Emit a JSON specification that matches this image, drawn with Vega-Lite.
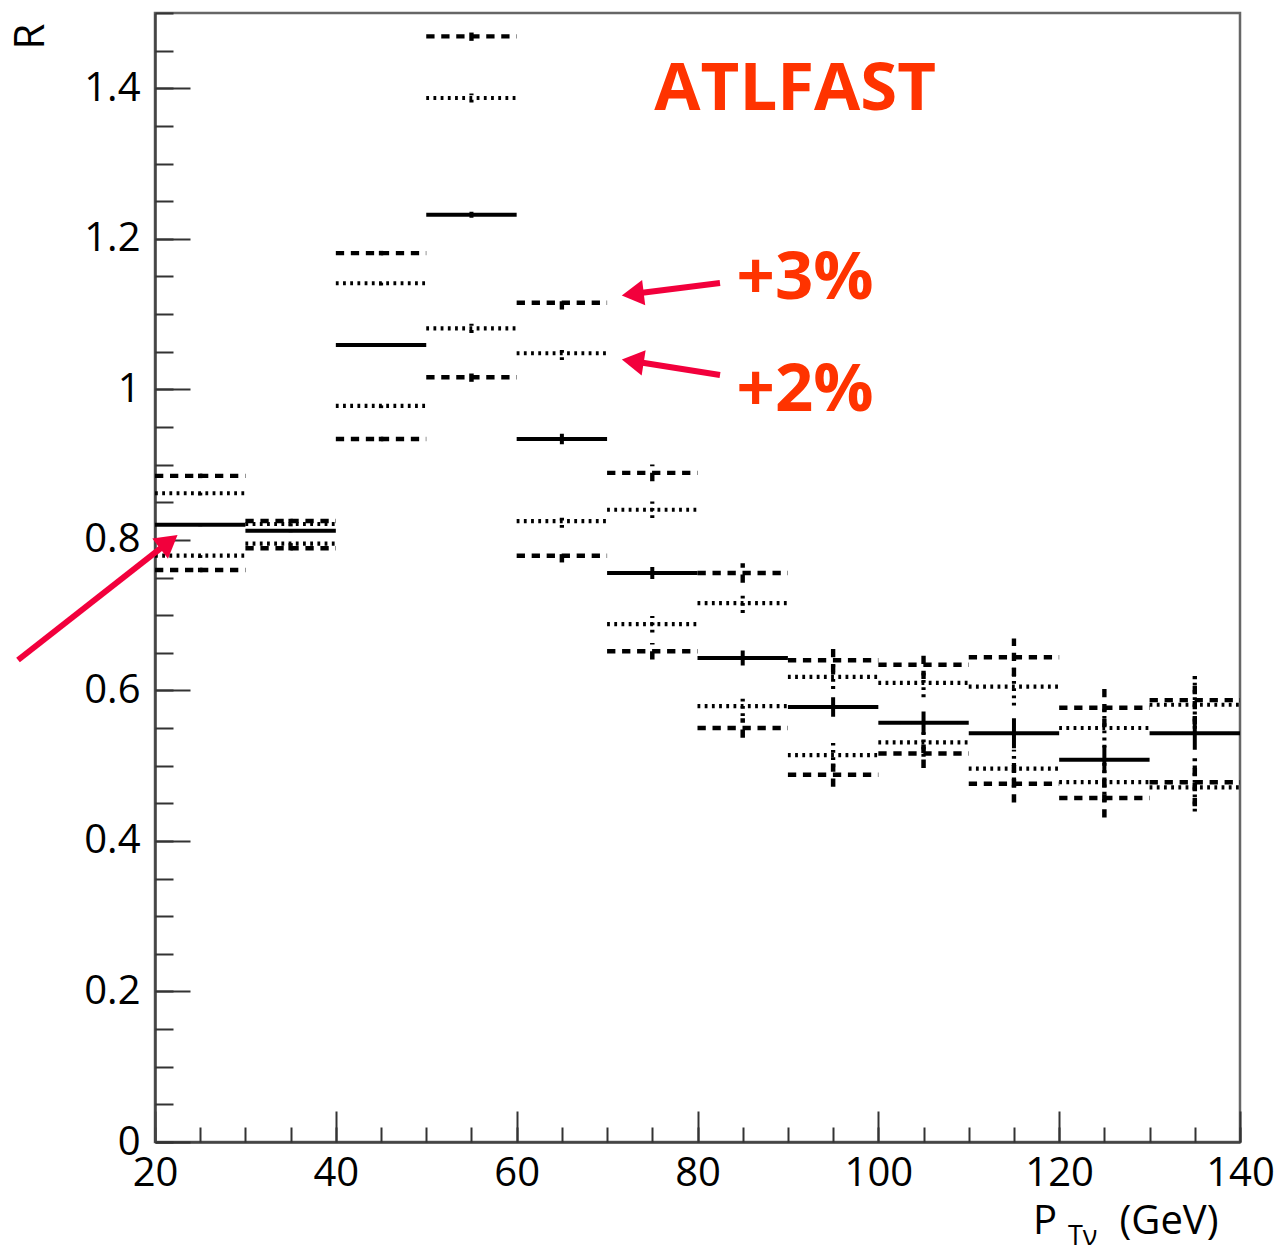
{
  "$schema": "https://vega.github.io/schema/vega-lite/v6.json",
  "width": 1085,
  "height": 1129,
  "autosize": {"type": "none"},
  "padding": {"left": 155, "top": 13, "right": 38, "bottom": 111},
  "background": "white",
  "config": {
    "view": {"stroke": "#666666", "strokeWidth": 2.5},
    "font": "Open Sans"
  },
  "datasets": {
    "bins": [
      {"x0": 20, "x1": 30, "xc": 25, "series": "+2%", "R": 0.862, "lo": 0.859, "hi": 0.865},
      {"x0": 20, "x1": 30, "xc": 25, "series": "-2%", "R": 0.779, "lo": 0.776, "hi": 0.782},
      {"x0": 20, "x1": 30, "xc": 25, "series": "+3%", "R": 0.885, "lo": 0.882, "hi": 0.888},
      {"x0": 20, "x1": 30, "xc": 25, "series": "-3%", "R": 0.760, "lo": 0.757, "hi": 0.763},
      {"x0": 20, "x1": 30, "xc": 25, "series": "nominal", "R": 0.820, "lo": 0.818, "hi": 0.822},
      {"x0": 30, "x1": 40, "xc": 35, "series": "+2%", "R": 0.821, "lo": 0.818, "hi": 0.824},
      {"x0": 30, "x1": 40, "xc": 35, "series": "-2%", "R": 0.795, "lo": 0.792, "hi": 0.798},
      {"x0": 30, "x1": 40, "xc": 35, "series": "+3%", "R": 0.825, "lo": 0.822, "hi": 0.828},
      {"x0": 30, "x1": 40, "xc": 35, "series": "-3%", "R": 0.789, "lo": 0.786, "hi": 0.792},
      {"x0": 30, "x1": 40, "xc": 35, "series": "nominal", "R": 0.812, "lo": 0.810, "hi": 0.814},
      {"x0": 40, "x1": 50, "xc": 45, "series": "+2%", "R": 1.141, "lo": 1.138, "hi": 1.144},
      {"x0": 40, "x1": 50, "xc": 45, "series": "-2%", "R": 0.978, "lo": 0.975, "hi": 0.981},
      {"x0": 40, "x1": 50, "xc": 45, "series": "+3%", "R": 1.181, "lo": 1.178, "hi": 1.184},
      {"x0": 40, "x1": 50, "xc": 45, "series": "-3%", "R": 0.934, "lo": 0.931, "hi": 0.937},
      {"x0": 40, "x1": 50, "xc": 45, "series": "nominal", "R": 1.059, "lo": 1.057, "hi": 1.061},
      {"x0": 50, "x1": 60, "xc": 55, "series": "+2%", "R": 1.387, "lo": 1.381, "hi": 1.393},
      {"x0": 50, "x1": 60, "xc": 55, "series": "-2%", "R": 1.081, "lo": 1.075, "hi": 1.087},
      {"x0": 50, "x1": 60, "xc": 55, "series": "+3%", "R": 1.469, "lo": 1.463, "hi": 1.475},
      {"x0": 50, "x1": 60, "xc": 55, "series": "-3%", "R": 1.016, "lo": 1.010, "hi": 1.022},
      {"x0": 50, "x1": 60, "xc": 55, "series": "nominal", "R": 1.232, "lo": 1.228, "hi": 1.236},
      {"x0": 60, "x1": 70, "xc": 65, "series": "+2%", "R": 1.048, "lo": 1.039, "hi": 1.057},
      {"x0": 60, "x1": 70, "xc": 65, "series": "-2%", "R": 0.825, "lo": 0.816, "hi": 0.834},
      {"x0": 60, "x1": 70, "xc": 65, "series": "+3%", "R": 1.115, "lo": 1.106, "hi": 1.124},
      {"x0": 60, "x1": 70, "xc": 65, "series": "-3%", "R": 0.779, "lo": 0.770, "hi": 0.788},
      {"x0": 60, "x1": 70, "xc": 65, "series": "nominal", "R": 0.934, "lo": 0.927, "hi": 0.941},
      {"x0": 70, "x1": 80, "xc": 75, "series": "+2%", "R": 0.840, "lo": 0.829, "hi": 0.851},
      {"x0": 70, "x1": 80, "xc": 75, "series": "-2%", "R": 0.688, "lo": 0.677, "hi": 0.699},
      {"x0": 70, "x1": 80, "xc": 75, "series": "+3%", "R": 0.889, "lo": 0.878, "hi": 0.900},
      {"x0": 70, "x1": 80, "xc": 75, "series": "-3%", "R": 0.652, "lo": 0.641, "hi": 0.663},
      {"x0": 70, "x1": 80, "xc": 75, "series": "nominal", "R": 0.756, "lo": 0.748, "hi": 0.764},
      {"x0": 80, "x1": 90, "xc": 85, "series": "+2%", "R": 0.716, "lo": 0.703, "hi": 0.729},
      {"x0": 80, "x1": 90, "xc": 85, "series": "-2%", "R": 0.579, "lo": 0.566, "hi": 0.592},
      {"x0": 80, "x1": 90, "xc": 85, "series": "+3%", "R": 0.756, "lo": 0.743, "hi": 0.769},
      {"x0": 80, "x1": 90, "xc": 85, "series": "-3%", "R": 0.550, "lo": 0.537, "hi": 0.563},
      {"x0": 80, "x1": 90, "xc": 85, "series": "nominal", "R": 0.643, "lo": 0.633, "hi": 0.653},
      {"x0": 90, "x1": 100, "xc": 95, "series": "+2%", "R": 0.618, "lo": 0.602, "hi": 0.634},
      {"x0": 90, "x1": 100, "xc": 95, "series": "-2%", "R": 0.514, "lo": 0.498, "hi": 0.530},
      {"x0": 90, "x1": 100, "xc": 95, "series": "+3%", "R": 0.640, "lo": 0.624, "hi": 0.656},
      {"x0": 90, "x1": 100, "xc": 95, "series": "-3%", "R": 0.488, "lo": 0.472, "hi": 0.504},
      {"x0": 90, "x1": 100, "xc": 95, "series": "nominal", "R": 0.578, "lo": 0.565, "hi": 0.591},
      {"x0": 100, "x1": 110, "xc": 105, "series": "+2%", "R": 0.610, "lo": 0.591, "hi": 0.629},
      {"x0": 100, "x1": 110, "xc": 105, "series": "-2%", "R": 0.531, "lo": 0.512, "hi": 0.550},
      {"x0": 100, "x1": 110, "xc": 105, "series": "+3%", "R": 0.634, "lo": 0.615, "hi": 0.653},
      {"x0": 100, "x1": 110, "xc": 105, "series": "-3%", "R": 0.516, "lo": 0.497, "hi": 0.535},
      {"x0": 100, "x1": 110, "xc": 105, "series": "nominal", "R": 0.557, "lo": 0.542, "hi": 0.572},
      {"x0": 110, "x1": 120, "xc": 115, "series": "+2%", "R": 0.605, "lo": 0.580, "hi": 0.630},
      {"x0": 110, "x1": 120, "xc": 115, "series": "-2%", "R": 0.496, "lo": 0.471, "hi": 0.521},
      {"x0": 110, "x1": 120, "xc": 115, "series": "+3%", "R": 0.644, "lo": 0.619, "hi": 0.669},
      {"x0": 110, "x1": 120, "xc": 115, "series": "-3%", "R": 0.476, "lo": 0.451, "hi": 0.501},
      {"x0": 110, "x1": 120, "xc": 115, "series": "nominal", "R": 0.543, "lo": 0.523, "hi": 0.563},
      {"x0": 120, "x1": 130, "xc": 125, "series": "+2%", "R": 0.550, "lo": 0.524, "hi": 0.576},
      {"x0": 120, "x1": 130, "xc": 125, "series": "-2%", "R": 0.478, "lo": 0.452, "hi": 0.504},
      {"x0": 120, "x1": 130, "xc": 125, "series": "+3%", "R": 0.577, "lo": 0.551, "hi": 0.603},
      {"x0": 120, "x1": 130, "xc": 125, "series": "-3%", "R": 0.457, "lo": 0.431, "hi": 0.483},
      {"x0": 120, "x1": 130, "xc": 125, "series": "nominal", "R": 0.508, "lo": 0.490, "hi": 0.526},
      {"x0": 130, "x1": 140, "xc": 135, "series": "+2%", "R": 0.581, "lo": 0.549, "hi": 0.613},
      {"x0": 130, "x1": 140, "xc": 135, "series": "-2%", "R": 0.471, "lo": 0.439, "hi": 0.503},
      {"x0": 130, "x1": 140, "xc": 135, "series": "+3%", "R": 0.587, "lo": 0.555, "hi": 0.619},
      {"x0": 130, "x1": 140, "xc": 135, "series": "-3%", "R": 0.478, "lo": 0.446, "hi": 0.510},
      {"x0": 130, "x1": 140, "xc": 135, "series": "nominal", "R": 0.543, "lo": 0.521, "hi": 0.565}
    ],
    "notes": [
      {"label": "ATLFAST", "x": 90.8, "y": 1.398},
      {"label": "+3%", "x": 91.9, "y": 1.146},
      {"label": "+2%", "x": 91.9, "y": 0.998}
    ],
    "subscript": [
      {"label": "Tν", "x": 122.6, "y": -0.1375}
    ],
    "arrows": [
      {"x": 82.49, "y": 1.1413, "xe": 73.24, "ye": 1.1272, "dir": 263},
      {"x": 82.49, "y": 1.0190, "xe": 73.24, "ye": 1.0366, "dir": 279},
      {"x": 4.85, "y": 0.6404, "xe": 21.21, "ye": 0.7944, "dir": 52}
    ]
  },
  "layer": [
    {
      "data": {"name": "bins"},
      "mark": {"type": "rule", "strokeCap": "butt", "color": "black"},
      "encoding": {
        "x": {
          "field": "x0", "type": "quantitative",
          "scale": {"domain": [20, 140], "nice": false, "zero": false},
          "axis": {
            "orient": "bottom",
            "values": [20, 40, 60, 80, 100, 120, 140],
            "tickSize": -31, "tickColor": "#333333", "tickWidth": 2,
            "labelPadding": 42, "labelFontSize": 40, "labelFont": "Open Sans",
            "labelColor": "black", "labelFlush": false, "labelOverlap": false,
            "domainColor": "#444444", "domainWidth": 2.5, "grid": false,
            "title": "P\u00a0\u00a0\u00a0\u00a0\u00a0\u00a0(GeV)",
            "titleFont": "Open Sans", "titleFontSize": 40, "titleFontWeight": "normal",
            "titleColor": "black", "titleAnchor": "end", "titleAlign": "right",
            "titleX": 1063, "titleY": 91, "titleBaseline": "alphabetic"
          }
        },
        "x2": {"field": "x1"},
        "y": {
          "field": "R", "type": "quantitative",
          "scale": {"domain": [0, 1.5], "nice": false, "zero": false},
          "axis": {
            "orient": "left",
            "values": [0, 0.2, 0.4, 0.6, 0.8, 1, 1.2, 1.4],
            "format": "~g",
            "tickSize": -35, "tickColor": "#333333", "tickWidth": 2,
            "labelPadding": 50, "labelFontSize": 40, "labelFont": "Open Sans",
            "labelColor": "black", "labelFlush": false, "labelOverlap": false,
            "domainColor": "#444444", "domainWidth": 2.5, "grid": false,
            "title": "R", "titleFont": "Open Sans", "titleFontSize": 42,
            "titleFontWeight": "normal", "titleColor": "black",
            "titleAngle": 270, "titleAlign": "right", "titleBaseline": "alphabetic",
            "titleX": -112, "titleY": 10
          }
        },
        "strokeDash": {
          "field": "series", "type": "nominal",
          "scale": {"domain": ["nominal", "+2%", "-2%", "+3%", "-3%"],
                    "range": [[1, 0], [2.8, 4.4], [2.8, 4.4], [8.3, 6.7], [8.3, 6.7]]},
          "legend": null
        },
        "strokeWidth": {
          "field": "series", "type": "nominal",
          "scale": {"domain": ["nominal", "+2%", "-2%", "+3%", "-3%"],
                    "range": [4, 4.5, 4.5, 4.5, 4.5]},
          "legend": null
        }
      }
    },
    {
      "data": {"name": "bins"},
      "mark": {"type": "rule", "strokeCap": "butt", "color": "black"},
      "encoding": {
        "x": {
          "field": "xc", "type": "quantitative",
          "scale": {"domain": [20, 140], "nice": false, "zero": false},
          "axis": {
            "orient": "bottom",
            "values": [20, 25, 30, 35, 40, 45, 50, 55, 60, 65, 70, 75, 80, 85, 90, 95, 100, 105, 110, 115, 120, 125, 130, 135, 140],
            "tickSize": -15, "tickColor": "#333333", "tickWidth": 2,
            "labels": false, "domain": false, "grid": false, "title": null
          }
        },
        "y": {
          "field": "lo", "type": "quantitative",
          "scale": {"domain": [0, 1.5], "nice": false, "zero": false},
          "axis": {
            "orient": "left",
            "values": [0, 0.05, 0.1, 0.15, 0.2, 0.25, 0.3, 0.35, 0.4, 0.45, 0.5, 0.55, 0.6, 0.65, 0.7, 0.75, 0.8, 0.85, 0.9, 0.95, 1, 1.05, 1.1, 1.15, 1.2, 1.25, 1.3, 1.35, 1.4, 1.45, 1.5],
            "tickSize": -18, "tickColor": "#333333", "tickWidth": 2,
            "labels": false, "domain": false, "grid": false, "title": null
          }
        },
        "y2": {"field": "hi"},
        "strokeDash": {
          "field": "series", "type": "nominal",
          "scale": {"domain": ["nominal", "+2%", "-2%", "+3%", "-3%"],
                    "range": [[1, 0], [2.8, 4.4], [2.8, 4.4], [8.3, 6.7], [8.3, 6.7]]},
          "legend": null
        },
        "strokeWidth": {
          "field": "series", "type": "nominal",
          "scale": {"domain": ["nominal", "+2%", "-2%", "+3%", "-3%"],
                    "range": [4, 4.5, 4.5, 4.5, 4.5]},
          "legend": null
        }
      }
    },
    {
      "data": {"name": "arrows"},
      "mark": {"type": "rule", "color": "#F2003C", "strokeWidth": 6, "strokeCap": "butt"},
      "encoding": {
        "x": {"field": "x", "type": "quantitative", "scale": {"domain": [20, 140], "nice": false, "zero": false}, "axis": null},
        "y": {"field": "y", "type": "quantitative", "scale": {"domain": [0, 1.5], "nice": false, "zero": false}, "axis": null},
        "x2": {"field": "xe"},
        "y2": {"field": "ye"}
      }
    },
    {
      "data": {"name": "arrows"},
      "mark": {"type": "point", "shape": "triangle", "filled": true, "color": "#F2003C", "opacity": 1, "size": 650},
      "encoding": {
        "x": {"field": "xe", "type": "quantitative", "scale": {"domain": [20, 140], "nice": false, "zero": false}, "axis": null},
        "y": {"field": "ye", "type": "quantitative", "scale": {"domain": [0, 1.5], "nice": false, "zero": false}, "axis": null},
        "angle": {"field": "dir", "type": "quantitative", "scale": null}
      }
    },
    {
      "data": {"name": "notes"},
      "mark": {"type": "text", "font": "Open Sans", "fontWeight": "bold", "fontSize": 67, "color": "#FF3300", "align": "center", "baseline": "middle"},
      "encoding": {
        "x": {"field": "x", "type": "quantitative", "scale": {"domain": [20, 140], "nice": false, "zero": false}, "axis": null},
        "y": {"field": "y", "type": "quantitative", "scale": {"domain": [0, 1.5], "nice": false, "zero": false}, "axis": null},
        "text": {"field": "label"}
      }
    },
    {
      "data": {"name": "subscript"},
      "mark": {"type": "text", "font": "Open Sans", "fontSize": 27, "color": "black", "align": "center", "baseline": "alphabetic"},
      "encoding": {
        "x": {"field": "x", "type": "quantitative", "scale": {"domain": [20, 140], "nice": false, "zero": false}, "axis": null},
        "y": {"field": "y", "type": "quantitative", "scale": {"domain": [0, 1.5], "nice": false, "zero": false}, "axis": null},
        "text": {"field": "label"}
      }
    }
  ],
  "resolve": {"axis": {"x": "independent", "y": "independent"}}
}
